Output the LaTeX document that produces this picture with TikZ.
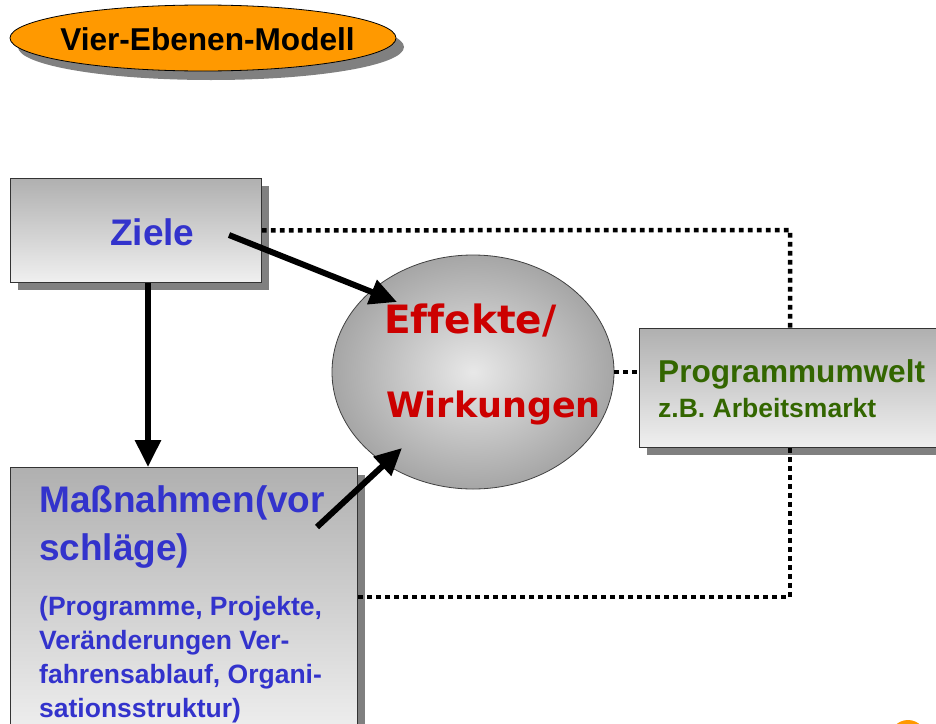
\documentclass[tikz,border=0pt]{standalone}
\usepackage{fontspec}
\setmainfont{Liberation Sans}
\newfontfamily\comicfont[Ligatures=NoCommon]{DejaVu Sans}
\usetikzlibrary{arrows.meta,shapes.geometric,shadows,calc}
\definecolor{txtblue}{RGB}{51,51,204}
\definecolor{txtgreen}{RGB}{51,102,0}
\definecolor{txtred}{RGB}{204,0,0}
\definecolor{titleorange}{RGB}{255,153,0}
\tikzset{
  shadowed/.style={drop shadow={shadow xshift=8pt,shadow yshift=-8pt,fill=black!50,opacity=1}},
  graybox/.style={rectangle,draw=black!80,line width=0.8pt,top color=black!31,bottom color=black!6,shadowed,anchor=north west,inner sep=0pt},
  conn/.style={line width=6pt,-{Triangle[length=27pt,width=25pt]}},
  dotline/.style={line width=4.5pt,dash pattern=on 4.8pt off 4.2pt},
  bluebig/.style={text=txtblue,font=\fontsize{37}{48}\bfseries\selectfont,inner sep=0pt},
  bluesmall/.style={text=txtblue,font=\fontsize{26.5}{34.3}\bfseries\selectfont,inner sep=0pt},
  redtext/.style={text=txtred,inner sep=0pt,anchor=base west},
}
\begin{document}
\begin{tikzpicture}[x=1pt,y=-1pt]
\useasboundingbox (0,0) rectangle (936,723);
\clip (0,0) rectangle (936,723);
% title
\node[ellipse,draw=black,line width=0.8pt,fill=titleorange,minimum width=386pt,minimum height=66pt,
  drop shadow={shadow xshift=8pt,shadow yshift=-9pt,fill=black!50,opacity=1}] (title) at (203,38) {};
\node[anchor=base,inner sep=0pt,font=\fontsize{31.6}{36}\bfseries\selectfont] (titletext) at (207.5,50) {Vier-Ebenen-Modell};
% boxes
\node[graybox,minimum width=251pt,minimum height=104pt] (ziele) at (10,178) {};
\node[graybox,minimum width=347pt,minimum height=270pt] (massn) at (10,467) {};
\node[graybox,minimum width=310pt,minimum height=119pt] (prog) at (639,328) {};
% ellipse
\node[ellipse,draw=black!75,line width=0.8pt,shading=radial,inner color=black!9,outer color=black!35,
  minimum width=282pt,minimum height=234pt] (eff) at (473,372) {};
% texts
\node[bluebig,anchor=base west] (zieletext) at (110,245) {Ziele};
\node[bluebig,anchor=base west] (massntext) at (39,512) {\vtop{\baselineskip=48pt\hbox{Maßnahmen(vor}\hbox{schläge)}}};
\node[bluesmall,anchor=base west] (massnsub) at (39,615) {\vtop{\baselineskip=34.3pt\hbox{(Programme, Projekte,}\hbox{Veränderungen Ver-}\hbox{fahrensablauf, Organi-}\hbox{sationsstruktur)}}};
\node[redtext,font=\comicfont\fontsize{39}{42}\bfseries\selectfont] (efftext) at (384,333) {Effekte/};
\node[redtext,font=\comicfont\fontsize{35}{40}\bfseries\selectfont] (wirktext) at (386,417) {Wirkungen};
\node[anchor=base west,inner sep=0pt,text=txtgreen,font=\fontsize{31.6}{36}\bfseries\selectfont] (progtext) at (658,382) {Programmumwelt};
\node[anchor=base west,inner sep=0pt,text=txtgreen,font=\fontsize{26.5}{30}\bfseries\selectfont] (progsub) at (658,417) {z.B. Arbeitsmarkt};
% dotted connectors
\coordinate (c1) at (790,230);
\coordinate (c2) at (790,597);
\draw[dotline] (ziele.east) -- (c1) -- (prog.north -| c1);
\draw[dotline] (prog.south -| c1) -- (c2) -- (massn.east |- c2);
\draw[dotline] (eff.east) -- (prog.west |- eff.east);
% arrows
\coordinate (zs) at (229,235);
\coordinate (et1) at (397,302);
\coordinate (zv) at (148,0);
\coordinate (ms) at (317,527);
\coordinate (et2) at (402,448);
\draw[conn] (zs) -- (et1);
\draw[conn] (ziele.south -| zv) -- (massn.north -| zv);
\draw[conn] (ms) -- (et2);
% partial orange circle
\fill[titleorange] (908,738) circle (18pt);
\end{tikzpicture}
\end{document}
